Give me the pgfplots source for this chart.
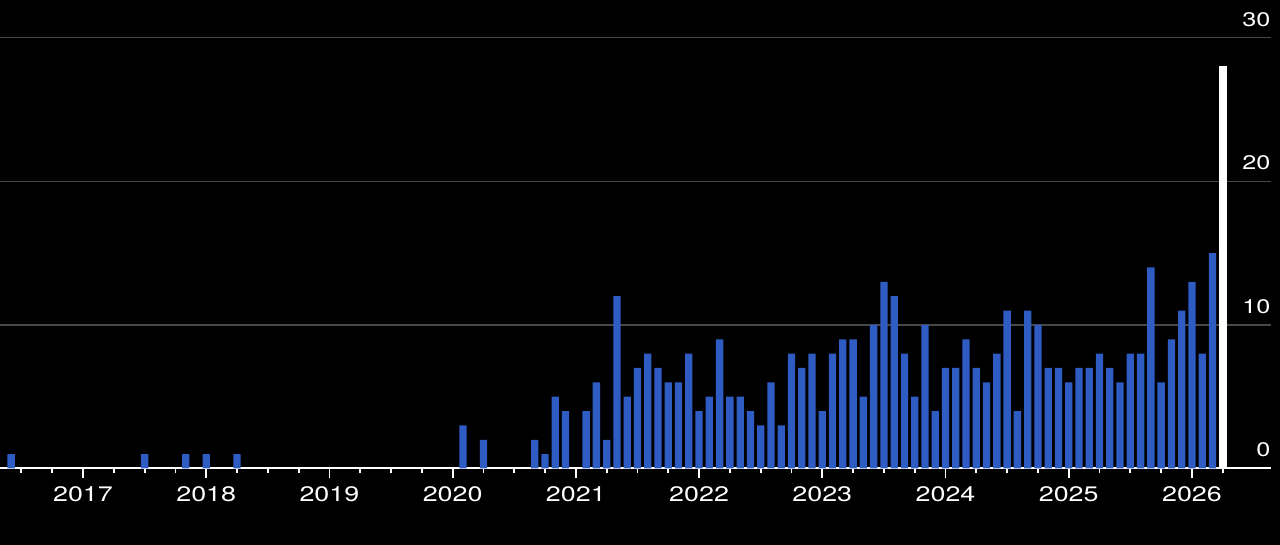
\documentclass[border=0pt]{standalone}
\usepackage{pgfplots}
\pgfplotsset{compat=1.18}
\usepackage{fontspec}
\setmainfont{TeX Gyre Heros}[FakeStretch=1.28]
\definecolor{barblue}{RGB}{46,92,194}
\definecolor{gridgray}{RGB}{72,72,72}
\begin{document}
\begin{tikzpicture}
\fill[black] (0,0) rectangle (1280pt,545pt);
\useasboundingbox (0,0) rectangle (1280pt,545pt);
\begin{axis}[
  at={(0pt,76.5pt)}, anchor=south west,
  scale only axis, width=1270.7pt, height=430.8pt,
  xmin=3.917, xmax=127.67, ymin=0, ymax=30,
  axis x line*=bottom, axis y line*=right,
  x axis line style={white, line width=2pt, -},
  y axis line style={draw=none},
  tick align=outside, major tick length=10pt, minor tick length=4.5pt,
  every tick/.style={white, line width=1.8pt},
  ytick={0,10,20,30}, ytick style={draw=none},
  ymajorgrids, grid style={gridgray, line width=1.3pt},
  xtick={12,24,36,48,60,72,84,96,108,120},
  xticklabels={2017,2018,2019,2020,2021,2022,2023,2024,2025,2026},
  minor xtick={6,9,...,123},
  /pgf/number format/assume math mode=true,
  xticklabel style={font=\fontsize{21}{24}\selectfont, text=white, anchor=north, inner sep=0pt, yshift=-8pt},
  yticklabel style={font=\fontsize{19.7}{22}\selectfont, text=white, anchor=south east, inner sep=0pt, xshift=-10pt, yshift=11pt},
]
\addplot[ybar, bar width=7.3pt, fill=barblue, draw=none] coordinates {
 (5,1) (18,1) (22,1) (24,1) (27,1)
 (49,3) (51,2) (56,2) (57,1) (58,5) (59,4)
 (61,4) (62,6) (63,2) (64,12) (65,5) (66,7) (67,8) (68,7) (69,6) (70,6) (71,8)
 (72,4) (73,5) (74,9) (75,5) (76,5) (77,4) (78,3) (79,6) (80,3) (81,8) (82,7) (83,8)
 (84,4) (85,8) (86,9) (87,9) (88,5) (89,10) (90,13) (91,12) (92,8) (93,5) (94,10) (95,4)
 (96,7) (97,7) (98,9) (99,7) (100,6) (101,8) (102,11) (103,4) (104,11) (105,10) (106,7) (107,7)
 (108,6) (109,7) (110,7) (111,8) (112,7) (113,6) (114,8) (115,8) (116,14) (117,6) (118,9) (119,11)
 (120,13) (121,8) (122,15)
};
\addplot[white, line width=8pt, forget plot] coordinates {(123,0) (123,28)};
\end{axis}
\end{tikzpicture}
\end{document}
